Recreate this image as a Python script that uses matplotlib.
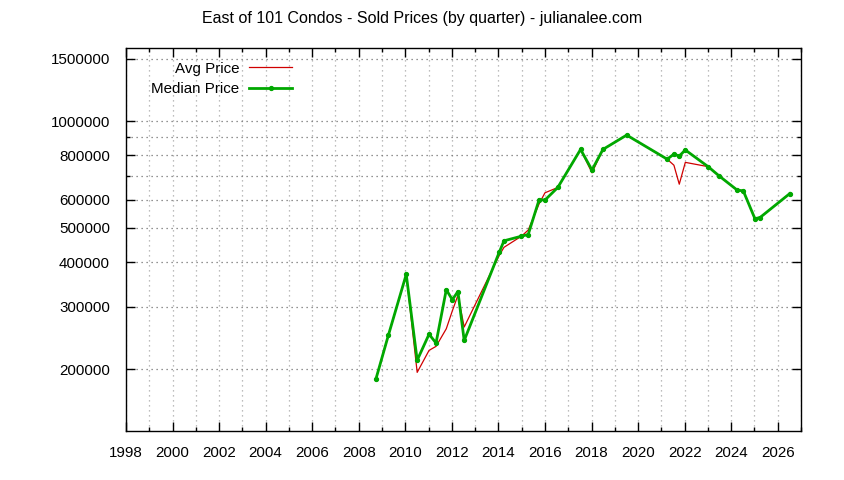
import matplotlib
matplotlib.use("Agg")
import matplotlib.pyplot as plt
from matplotlib.ticker import FixedLocator, NullFormatter

# quarter dates (decimal years) and prices
years = [2008.74, 2009.27, 2010.04, 2010.51, 2011.02, 2011.32, 2011.76, 2012.02,
         2012.26, 2012.53, 2014.04, 2014.24, 2014.99, 2015.28, 2015.75, 2016.00,
         2016.55, 2017.53, 2018.02, 2018.49, 2019.51, 2021.25, 2021.54, 2021.77,
         2022.03, 2023.01, 2023.49, 2024.26, 2024.52, 2025.02, 2025.24, 2026.52]

median_price = [188000, 249000, 370000, 212000, 251000, 237000, 335000, 314000,
                331000, 241000, 428000, 460000, 474000, 479000, 601000, 599000,
                650000, 832000, 728000, 832000, 913000, 781000, 807000, 797000,
                829000, 744000, 700000, 639000, 636000, 531000, 535000, 625000]

avg_price = [188000, 249000, 370000, 196000, 226000, 232000, 260000, 292000,
             323000, 263000, 419000, 441000, 474000, 493000, 585000, 628000,
             650000, 832000, 715000, 832000, 913000, 781000, 751000, 664000,
             765000, 744000, 700000, 639000, 636000, 531000, 535000, 625000]

year_ticks = list(range(1998, 2027, 2))
year_minor = list(range(1999, 2028, 2))
price_ticks = [200000, 300000, 400000, 500000, 600000, 800000, 1000000, 1500000]
price_minor = [700000, 900000]

plt.rcParams["font.family"] = "Liberation Sans"
plt.rcParams["font.size"] = 10.9

fig = plt.figure(figsize=(8.44, 4.80), dpi=100)
ax = fig.add_axes([126 / 844, 49 / 480, 675 / 844, 383 / 480])

ax.plot(years, avg_price, color="#d00000", linewidth=0.9, label="Avg Price", zorder=3)
ax.plot(years, median_price, color="#00a800", linewidth=2.0, marker="o",
        markersize=2.8, label="Median Price", zorder=4)

ax.set_yscale("log")
ax.set_xlim(1998, 2027)
ax.set_ylim(134000, 1606000)

ax.yaxis.set_major_locator(FixedLocator(price_ticks))
ax.yaxis.set_minor_locator(FixedLocator(price_minor))
ax.yaxis.set_minor_formatter(NullFormatter())
ax.set_yticklabels([str(v) for v in price_ticks])
ax.xaxis.set_major_locator(FixedLocator(year_ticks))
ax.xaxis.set_minor_locator(FixedLocator(year_minor))
ax.set_xticklabels([str(y) for y in year_ticks])

ax.tick_params(which="both", direction="in", top=True, right=True, width=1.0)
ax.tick_params(which="major", length=6.5)
ax.tick_params(which="minor", length=3.2)
ax.tick_params(axis="y", which="major", pad=11.5)
ax.tick_params(axis="x", which="major", pad=11)

ax.grid(True, axis="x", which="both", color="#a8a8a8", linestyle=(0, (1, 3)), linewidth=0.9)
ax.grid(True, axis="y", which="both", color="#707070", linestyle=(0, (1, 3)), linewidth=0.9)
ax.set_axisbelow(True)
for s in ax.spines.values():
    s.set_linewidth(1.0)

ax.legend(loc="upper left", bbox_to_anchor=(0.022, 0.992), frameon=False,
          markerfirst=False, numpoints=1, handlelength=2.8, handletextpad=0.65,
          labelspacing=0.42, borderaxespad=0.3)

fig.suptitle("East of 101 Condos - Sold Prices (by quarter) - julianalee.com",
             y=1 - 19 / 480, va="center", fontsize=11.5)

fig.savefig("out.png", dpi=100)
